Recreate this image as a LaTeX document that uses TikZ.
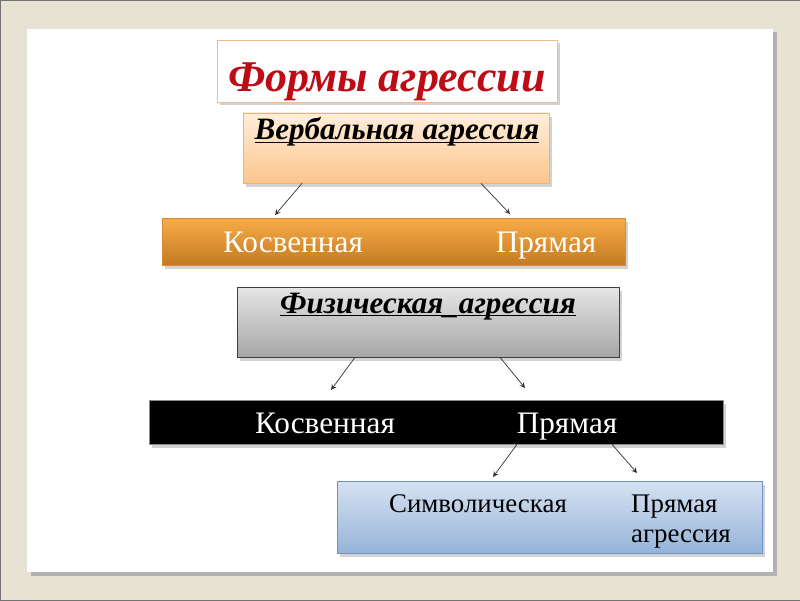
\documentclass[tikz,border=0pt]{standalone}
\usepackage{fontspec}
\setmainfont{Liberation Serif}
\usetikzlibrary{calc,positioning,shadows}

\definecolor{frameC}{RGB}{230,227,213}
\definecolor{titleRed}{RGB}{190,12,22}
\definecolor{titleLine}{RGB}{232,190,148}
\definecolor{peachTop}{RGB}{255,238,218}
\definecolor{peachBot}{RGB}{251,198,140}
\definecolor{peachLine}{RGB}{244,176,110}
\definecolor{orangeTop}{RGB}{248,172,72}
\definecolor{orangeBot}{RGB}{196,122,34}
\definecolor{orangeLine}{RGB}{214,140,52}
\definecolor{blueTop}{RGB}{214,226,242}
\definecolor{blueBot}{RGB}{150,180,216}
\definecolor{blueLine}{RGB}{112,146,196}

\begin{document}
\begin{tikzpicture}[
  >=stealth,
  box/.style={inner sep=0pt,
    drop shadow={shadow xshift=0.05cm,shadow yshift=-0.07cm,opacity=0.35}},
  link/.style={draw=black!80,->},
  head/.style={anchor=base,font=\fontsize{17.7}{20}\selectfont\bfseries\itshape},
  bartext/.style={anchor=base,font=\fontsize{17.8}{20}\selectfont,text=white},
  bluetext/.style={font=\fontsize{15.3}{17}\selectfont,align=left}
]
  \useasboundingbox (0,0) rectangle (16,12);

  % Slide frame and white page
  \fill[frameC] (0,0) rectangle (16,12);
  \draw[black!55] (0,0) rectangle (16,12);
  \fill[black!30] (0.62,0.48) rectangle (15.54,11.36);
  \fill[white] (0.54,0.56) rectangle (15.46,11.42);

  % Title
  \node[box,draw=titleLine,fill=white,
        minimum width=6.8cm,minimum height=1.24cm] (title) at (7.74,10.58) {};
  \node[anchor=base,font=\fontsize{25}{30}\selectfont\bfseries\itshape,
        text=titleRed] (titlet) at (7.74,10.16) {Формы агрессии};

  % Verbal aggression
  \node[box,draw=peachLine,top color=peachTop,bottom color=peachBot,
        minimum width=6.12cm,minimum height=1.4cm] (verb) at (7.92,9.04) {};
  \node[head] (verbt) at (7.94,9.2)
    {\underline{\smash{Вербальная агрессия}}};

  \node[box,draw=orangeLine,top color=orangeTop,bottom color=orangeBot,
        minimum width=9.26cm,minimum height=0.94cm] (obar) at (7.87,7.17) {};
  \node[bartext] (okos) at (5.86,6.96) {Косвенная};
  \node[bartext] (opr) at (10.92,6.96) {Прямая};

  \coordinate (vk) at (5.5,7.7);
  \coordinate (vp) at (10.2,7.72);
  \draw[link] ($(verb.south)+(-1.88,0)$) -- (vk);
  \draw[link] ($(verb.south)+(1.70,0)$) -- (vp);

  % Physical aggression
  \node[box,draw=black!75,top color=black!10,bottom color=black!35,
        minimum width=7.64cm,minimum height=1.4cm] (phys) at (8.56,5.56) {};
  \node[head] (physt) at (8.56,5.74)
    {\underline{\smash{Физическая\_агрессия}}};

  \node[box,draw=black!45,fill=black,
        minimum width=11.48cm,minimum height=0.88cm] (kbar) at (8.72,3.56) {};
  \node[bartext] (kkos) at (6.5,3.34) {Косвенная};
  \node[bartext] (kpr) at (11.34,3.34) {Прямая};

  \coordinate (fk) at (6.62,4.2);
  \coordinate (fp) at (10.5,4.24);
  \draw[link] ($(phys.south)+(-1.46,0)$) -- (fk);
  \draw[link] ($(phys.south)+(1.44,0)$) -- (fp);

  % Direct: symbolic / direct
  \node[box,draw=blueLine,top color=blueTop,bottom color=blueBot,
        minimum width=8.5cm,minimum height=1.44cm] (sbox) at (10.99,1.66) {};
  \node[bluetext,anchor=base] (sym) at (9.56,1.76) {Символическая};
  \node[bluetext,anchor=base west] (dir) at (12.5,1.16) {Прямая\\агрессия};

  \coordinate (ss) at (9.86,2.46);
  \coordinate (sd) at (12.74,2.54);
  \draw[link] ($(kbar.south)+(1.62,0)$) -- (ss);
  \draw[link] ($(kbar.south)+(3.52,0)$) -- (sd);
\end{tikzpicture}
\end{document}
